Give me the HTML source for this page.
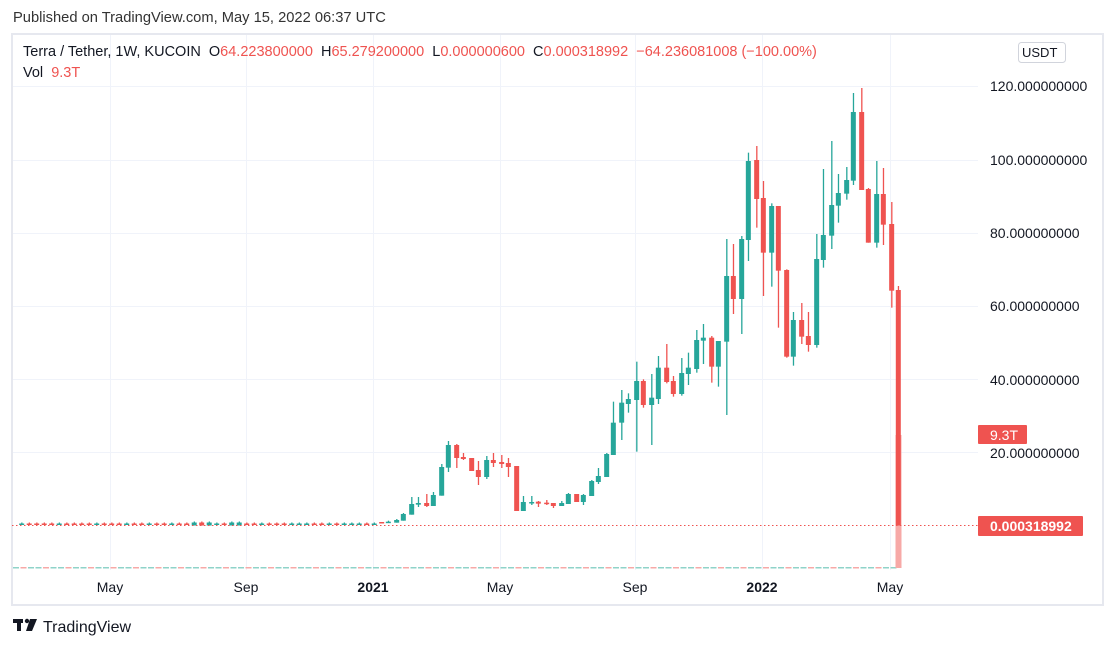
<!DOCTYPE html>
<html><head><meta charset="utf-8"><style>
body{margin:0;width:1116px;height:648px;background:#fff;overflow:hidden;font-family:"Liberation Sans",sans-serif;color:#131722}
.t{position:absolute;white-space:nowrap}
</style></head><body>
<div class="t" style="left:13px;top:10px;font-size:14.7px;color:#333">Published on TradingView.com, May 15, 2022 06:37 UTC</div>
<svg id="c" width="1116" height="648" style="position:absolute;left:0;top:0" xmlns="http://www.w3.org/2000/svg">
<rect x="12" y="34" width="1091" height="571" fill="none" stroke="#e6e8ef" stroke-width="2"/>
<g id="grid" stroke="#f0f3fa" stroke-width="1"></g>
<g id="cd"></g>
<line x1="12" y1="525.5" x2="978" y2="525.5" stroke="#ef5350" stroke-dasharray="1.5,2.5" stroke-width="1"/>
<g font-size="14" fill="#131722">
<text x="990" y="91">120.000000000</text>
<text x="990" y="165">100.000000000</text>
<text x="990" y="238">80.000000000</text>
<text x="990" y="311">60.000000000</text>
<text x="990" y="385">40.000000000</text>
<text x="990" y="458">20.000000000</text>
</g>
<rect x="978" y="425" width="49" height="19" rx="1" fill="#ef5350"/>
<text x="990" y="440" font-size="14" fill="#fff">9.3T</text>
<rect x="978" y="516" width="105" height="20" rx="1" fill="#ef5350"/>
<text x="990" y="531" font-size="14" font-weight="bold" fill="#fff">0.000318992</text>
<rect x="1018.5" y="42.5" width="47" height="20" rx="3" fill="#fff" stroke="#d1d4dc"/>
<text x="1022" y="57" font-size="13" fill="#131722">USDT</text>
<g font-size="14" fill="#131722" text-anchor="middle">
<text x="110" y="592">May</text><text x="246" y="592">Sep</text><text x="373" y="592" font-weight="bold">2021</text>
<text x="500" y="592">May</text><text x="635" y="592">Sep</text><text x="762" y="592" font-weight="bold">2022</text><text x="890" y="592">May</text>
</g>
<g fill="#131722"><rect x="13" y="619" width="10" height="4"/><rect x="17" y="619" width="4" height="12"/><circle cx="27" cy="621" r="2.2"/><polygon points="30,619 37,619 32,631 26,631"/></g>
<text x="43" y="632" font-size="16" fill="#131722">TradingView</text>
</svg>
<div class="t" style="left:23px;top:44px;font-size:14.5px">Terra / Tether, 1W, KUCOIN&nbsp; O<span style="color:#ef5350">64.223800000</span>&nbsp; H<span style="color:#ef5350">65.279200000</span>&nbsp; L<span style="color:#ef5350">0.000000600</span>&nbsp; C<span style="color:#ef5350">0.000318992</span>&nbsp; <span style="color:#ef5350">−64.236081008 (−100.00%)</span></div>
<div class="t" style="left:23px;top:65px;font-size:14.5px">Vol&nbsp; <span style="color:#ef5350">9.3T</span></div>
<script>
const NS="http://www.w3.org/2000/svg",g=document.getElementById('cd'),gr=document.getElementById('grid');
function el(p,t,a){const e=document.createElementNS(NS,t);for(const k in a)e.setAttribute(k,a[k]);p.appendChild(e);return e}
[86,160,233,306,379,452].forEach(y=>el(gr,'line',{x1:13,x2:978,y1:y+.5,y2:y+.5}));
[110,246,373,500,635,762,890].forEach(x=>el(gr,'line',{x1:x+.5,x2:x+.5,y1:35,y2:570}));
const G='#26a69a',R='#ef5350';
function candle(x,c,bt,bb,wt,wb){el(g,'rect',{x:x-.5,y:wt,width:1.3,height:Math.max(wb-wt,1),fill:c});el(g,'rect',{x:x-2.5,y:bt,width:5,height:Math.max(bb-bt,1.5),fill:c});}
const pat="GRRRRGRRRRGRRRGRRGRRGRRGRGGRGGRRGRRRGGGRRGRGGGRGGGR";
for(let i=0;i<48;i++){const x=381.7-7.5*(48-i);const c=pat[i%pat.length]=='G'?G:R;
 let h=1.5,t=523.5; if(x>190&&x<210){h=3;t=522.5} if(x>230&&x<240){h=3;t=522.5}
 candle(x,c,t,t+h,t-1,t+h);}
const z3=[[5,R,276,278,276,278],[25,G,275,278,272,278],[50,G,270,278,267,278],[70,G,252,272,249,272],[95,G,222,254,201,254],[115,G,219,224,201,231],[140,R,219,228,192,231],[160,G,195,228,186,228],[185,G,111,197,102,197],[205,G,45,113,33,126],[230,R,45,84,42,114],[250,R,81,87,69,90],[275,R,84,123,84,123],[295,R,120,141,93,165],[320,G,90,141,78,147],[340,R,90,99,69,111],[365,R,96,102,75,114],[385,R,99,111,84,141],[410,R,108,243,108,243],[430,G,216,243,198,243],[455,G,216,219,198,225],[475,R,215,221,213,231],[500,R,218,221,210,225],[520,R,219,228,219,234],[545,G,219,228,213,228],[565,G,192,222,189,222],[590,R,192,216,192,216],[610,G,195,216,192,225],[635,G,153,198,150,198],[655,G,138,156,114,162],[680,G,72,141,69,141]];
z3.forEach(d=>candle(380+d[0]/3,d[1],430+d[2]/3,430+d[3]/3,430+d[4]/3,430+d[5]/3));
const z2=[[70,G,1028,1125,965,1125],[95,G,968,1028,930,1080],[115,G,957,972,940,998],[140,G,903,960,845,1115],[160,R,903,975,898,983],[185,G,953,975,882,1095],[205,G,863,957,828,972],[230,R,863,906,792,910],[250,R,903,942,888,950],[275,G,879,942,834,947],[295,G,863,882,818,915],[320,G,780,867,750,878],[340,G,773,782,732,852],[365,R,773,860,768,908],[385,G,783,860,783,920],[410,G,588,785,477,1005],[430,R,588,657,492,702],[455,G,477,657,468,762],[475,G,243,480,218,543],[500,R,240,357,198,443],[520,R,354,518,303,648],[545,G,378,518,370,620],[565,R,378,572,378,743],[590,R,570,830,568,833],[610,G,720,830,696,857],[635,R,720,770,669,792],[655,R,768,795,696,815],[680,G,537,795,462,803],[700,G,465,540,267,563],[725,G,375,467,183,507],[745,G,339,377,282,428],[770,G,300,341,261,359],[790,G,96,302,39,315],[815,R,96,330,24,330],[835,R,327,488,324,488],[860,G,342,488,243,503],[880,R,342,434,264,495],[905,R,432,632,366,683]];
z2.forEach(d=>candle(590+d[0]/3,d[1],80+d[2]/3,80+d[3]/3,80+d[4]/3,80+d[5]/3));
for(let x=16;x<895;x+=7.5){el(g,'rect',{x:x-3,y:567,width:6,height:1.5,fill:(Math.floor(x/7.5)%3==0)?'#f7a9a7':'#8fd3c9'});}
el(g,'rect',{x:895.5,y:435,width:6,height:133,fill:'#f7a9a7'});
candle(898.3,R,290,525.5,286,525.5);
</script>
</body></html>
